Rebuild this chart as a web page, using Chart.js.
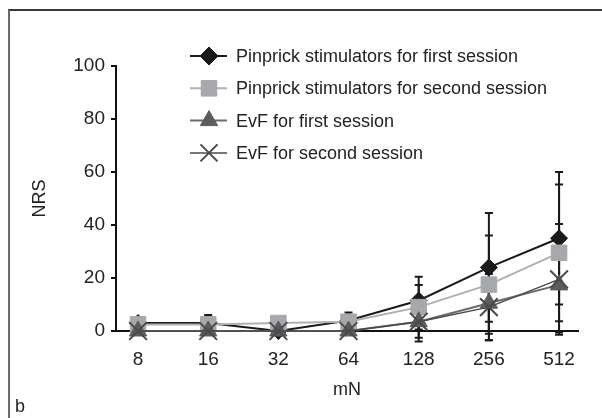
<!DOCTYPE html>
<html>
<head>
<meta charset="utf-8">
<script src="https://cdn.jsdelivr.net/npm/chart.js@4.4.0/dist/chart.umd.min.js"></script>
<style>
    html, body { margin: 0; padding: 0; background: #fff; }
    #wrap { position: relative; width: 602px; height: 418px; overflow: hidden; }
    #frame { position: absolute; left: 8px; top: 9px; right: -10px; bottom: -10px; border-top: 2px solid #3a3a3a; border-left: 2px solid #6a6a6a; }
    #tag { position: absolute; left: 15px; top: 396px; font: 18px "Liberation Sans", Arial, sans-serif; color: #222; }
    canvas { position: absolute; left: 0; top: 0; }
</style>
</head>
<body>
<div id="wrap">
    <div id="frame"></div>
    <canvas id="lineChart" width="602" height="418"></canvas>
    <div id="tag">b</div>
</div>
<script>
// forces (mN) on the x axis
var forceLabels = ['8', '16', '32', '64', '128', '256', '512'];
var yTicks = [0, 20, 40, 60, 80, 100];

// mean NRS and error (SD) per force
var pinFirst     = [3, 3, 0, 4, 11.5, 24, 35];
var pinFirstErr  = [2, 3, 0, 3, 9, 20.5, 25];
var pinSecond    = [2.5, 2.5, 3, 3.5, 9, 17.5, 29.5];
var pinSecondErr = [1, 1, 1, 1.5, 8.4, 18.5, 25.8];
var evfFirst     = [0, 0, 0, 0, 3.5, 10.5, 17.4];
var evfFirstErr  = [0, 0, 0, 0.5, 7.5, 14, 18];
var evfSecond    = [0, 0, 0, 0, 3.5, 9, 19.5];
var evfSecondErr = [0, 0, 0, 0, 6, 12.5, 20.9];

var FONT = '"Liberation Sans", Arial, sans-serif';

function toPoints(arr) {
    return arr.map(function(v, i) { return { x: i, y: v }; });
}

// error bars drawn under the markers
var errorBars = {
    id: 'errorBars',
    beforeDatasetsDraw: function(chart) {
        var ctx = chart.ctx;
        var xs = chart.scales.x, ys = chart.scales.y;
        ctx.save();
        ctx.strokeStyle = '#1a1a1a';
        ctx.lineWidth = 2;
        chart.data.datasets.forEach(function(ds) {
            ds.errors.forEach(function(e, i) {
                if (!e) return;
                var x = xs.getPixelForValue(i);
                var hi = ys.getPixelForValue(ds.data[i].y + e);
                var lo = ys.getPixelForValue(ds.data[i].y - e);
                ctx.beginPath();
                ctx.moveTo(x, hi); ctx.lineTo(x, lo);
                ctx.moveTo(x - 4, hi); ctx.lineTo(x + 4, hi);
                ctx.moveTo(x - 4, lo); ctx.lineTo(x + 4, lo);
                ctx.stroke();
            });
        });
        ctx.restore();
    }
};

// legend box inside the plot, one row per series
var insideLegend = {
    id: 'insideLegend',
    afterDraw: function(chart) {
        var ctx = chart.ctx;
        ctx.save();
        chart.data.datasets.forEach(function(ds, i) {
            var y = 56 + i * 32.3;
            ctx.strokeStyle = ds.borderColor;
            ctx.lineWidth = ds.borderWidth;
            ctx.beginPath();
            ctx.moveTo(190, y); ctx.lineTo(227, y);
            ctx.stroke();
            ctx.fillStyle = ds.pointBackgroundColor;
            ctx.strokeStyle = ds.pointBorderColor;
            ctx.lineWidth = ds.pointBorderWidth;
            Chart.helpers.drawPoint(ctx, {
                pointStyle: ds.pointStyle,
                radius: ds.legendRadius,
                rotation: 0,
                borderWidth: ds.pointBorderWidth
            }, 209, y);
            ctx.fillStyle = '#222';
            ctx.font = '18px ' + FONT;
            ctx.textBaseline = 'middle';
            ctx.fillText(ds.label, 236, y + 1);
        });
        ctx.restore();
    }
};

var ctx = document.getElementById('lineChart').getContext('2d');
var lineChart = new Chart(ctx, {
    type: 'line',
    data: {
        datasets: [{
            label: 'Pinprick stimulators for first session',
            data: toPoints(pinFirst),
            errors: pinFirstErr,
            borderColor: '#1a1a1a',
            borderWidth: 2,
            pointStyle: 'rectRot',
            pointRadius: 8.5,
            legendRadius: 9,
            pointBackgroundColor: '#1a1a1a',
            pointBorderColor: '#1a1a1a',
            pointBorderWidth: 1,
            order: 4
        }, {
            label: 'Pinprick stimulators for second session',
            data: toPoints(pinSecond),
            errors: pinSecondErr,
            borderColor: '#b0b0b0',
            borderWidth: 2,
            pointStyle: 'rect',
            pointRadius: 11,
            legendRadius: 11,
            pointBackgroundColor: '#a6a8ab',
            pointBorderColor: '#a6a8ab',
            pointBorderWidth: 1,
            order: 3
        }, {
            label: 'EvF for first session',
            data: toPoints(evfFirst),
            errors: evfFirstErr,
            borderColor: '#6a6a6a',
            borderWidth: 2,
            pointStyle: 'triangle',
            pointRadius: 10,
            legendRadius: 10,
            pointBackgroundColor: '#5c5c5c',
            pointBorderColor: '#5c5c5c',
            pointBorderWidth: 1,
            order: 2
        }, {
            label: 'EvF for second session',
            data: toPoints(evfSecond),
            errors: evfSecondErr,
            borderColor: '#4a4a4a',
            borderWidth: 1.5,
            pointStyle: 'crossRot',
            pointRadius: 12.5,
            legendRadius: 12,
            pointBackgroundColor: '#4a4a4a',
            pointBorderColor: '#4a4a4a',
            pointBorderWidth: 2,
            order: 1
        }]
    },
    options: {
        responsive: false,
        animation: false,
        clip: false,
        layout: { padding: { top: 66, right: 24, left: 0, bottom: 0 } },
        elements: { line: { tension: 0 } },
        plugins: {
            legend: { display: false },
            tooltip: { enabled: false }
        },
        scales: {
            x: {
                type: 'linear',
                min: -0.314,
                max: 6.27,
                afterBuildTicks: function(axis) {
                    axis.ticks = forceLabels.map(function(l, i) { return { value: i }; });
                },
                afterFit: function(scale) { scale.height = 87; },
                grid: { display: false },
                border: { display: true, color: '#111', width: 2 },
                ticks: {
                    padding: 9,
                    color: '#222',
                    font: { family: FONT, size: 19 },
                    callback: function(v) { return forceLabels[v]; }
                },
                title: {
                    display: true,
                    text: 'mN',
                    color: '#222',
                    font: { family: FONT, size: 18 },
                    padding: { top: 0, bottom: 17 }
                }
            },
            y: {
                min: 0,
                max: 100,
                afterBuildTicks: function(axis) {
                    axis.ticks = yTicks.map(function(v) { return { value: v }; });
                },
                afterFit: function(scale) { scale.width = 116; },
                grid: { drawOnChartArea: false, drawTicks: true, tickLength: 5, color: '#111', lineWidth: 2 },
                border: { display: true, color: '#111', width: 2 },
                ticks: {
                    padding: 6,
                    color: '#222',
                    font: { family: FONT, size: 19 }
                },
                title: {
                    display: true,
                    text: 'NRS',
                    color: '#222',
                    font: { family: FONT, size: 18 },
                    padding: { top: 29.5, bottom: 0 }
                }
            }
        }
    },
    plugins: [errorBars, insideLegend]
});
</script>
</body>
</html>
